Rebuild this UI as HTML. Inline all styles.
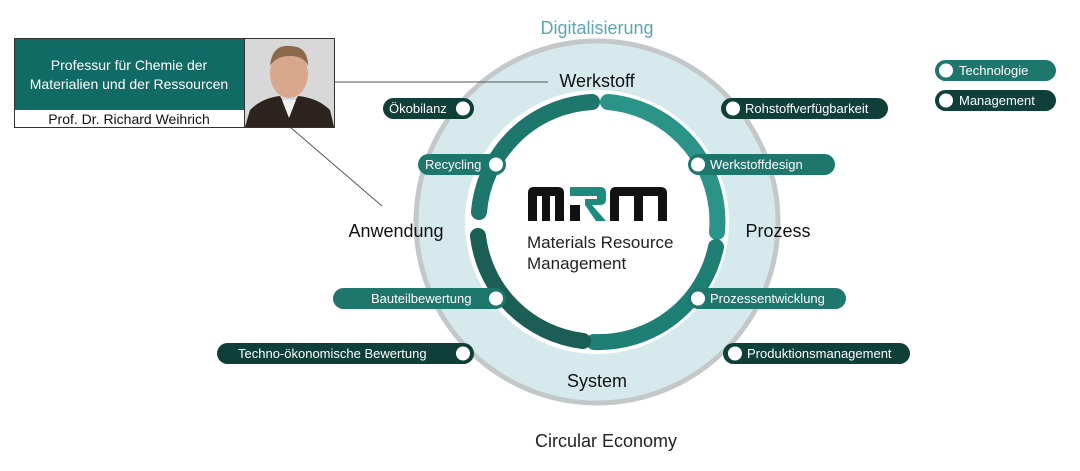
<!DOCTYPE html>
<html><head><meta charset="utf-8"><style>
body{margin:0;background:#fff;}
svg{display:block;font-family:"Liberation Sans","DejaVu Sans",sans-serif;}
</style></head><body>
<svg width="1080" height="471" viewBox="0 0 1080 471" xmlns="http://www.w3.org/2000/svg">
<!-- rings -->
<circle cx="597" cy="222" r="181" fill="#d6eaee" stroke="#c4c8c9" stroke-width="5"/>
<circle cx="597" cy="222" r="132" fill="#fff"/>
<g fill="none" stroke-width="16" stroke-linecap="round">
<path d="M 608 102 A 120 120 0 0 1 717 232" stroke="#2a9488"/>
<path d="M 716 247 A 120 120 0 0 1 594 342" stroke="#1e7f74"/>
<path d="M 583 341 A 120 120 0 0 1 478 236" stroke="#1a5e56"/>
<path d="M 479 212 A 120 120 0 0 1 592 102" stroke="#1d776d"/>
</g>
<!-- logo -->
<g fill="#111">
<path d="M528 221 V193 Q528 187 534 187 H558 Q564 187 564 193 V221 H555 V196 H550 V221 H542 V196 H537 V221 Z"/>
<path d="M610 221 V193 Q610 187 616 187 H660 Q667 187 667 193 V221 H658 V196 H643 V221 H634 V196 H619 V221 Z"/>
</g>
<path d="M570 187 H600 Q606 187 606 193 V199 Q606 205 600 205 H592 L606 221 H596 L585 205 V199 H597 V196 H570 Z" fill="#1d8a80"/>
<path d="M570 205 H580 V221 H570 Z" fill="#111"/>
<text x="527" y="248" font-size="17" fill="#222">Materials Resource</text>
<text x="527" y="269" font-size="17" fill="#222">Management</text>
<!-- labels -->
<text x="597" y="34" font-size="18" fill="#5aa7b4" text-anchor="middle">Digitalisierung</text>
<text x="597" y="87" font-size="18" fill="#111" text-anchor="middle">Werkstoff</text>
<text x="778" y="237" font-size="18" fill="#111" text-anchor="middle">Prozess</text>
<text x="396" y="237" font-size="18" fill="#111" text-anchor="middle">Anwendung</text>
<text x="597" y="387" font-size="18" fill="#111" text-anchor="middle">System</text>
<text x="606" y="447" font-size="18" fill="#222" text-anchor="middle">Circular Economy</text>
<!-- pills -->
<g font-size="13" fill="#fff">
<rect x="383" y="98" width="91" height="21" rx="10.5" fill="#0f3f39"/><circle cx="463" cy="108.5" r="7" fill="#fff"/><text x="389" y="113">Ökobilanz</text>
<rect x="418" y="154" width="88" height="21" rx="10.5" fill="#1d776d"/><circle cx="496" cy="164.5" r="7" fill="#fff"/><text x="425" y="169">Recycling</text>
<rect x="333" y="288" width="173" height="21" rx="10.5" fill="#1d776d"/><circle cx="496" cy="298.5" r="7" fill="#fff"/><text x="371" y="303">Bauteilbewertung</text>
<rect x="217" y="343" width="257" height="21" rx="10.5" fill="#0f3f39"/><circle cx="463" cy="353.5" r="7" fill="#fff"/><text x="238" y="358">Techno-ökonomische Bewertung</text>
<rect x="721" y="98" width="167" height="21" rx="10.5" fill="#0f3f39"/><circle cx="733" cy="108.5" r="7" fill="#fff"/><text x="745" y="113">Rohstoffverfügbarkeit</text>
<rect x="688" y="154" width="147" height="21" rx="10.5" fill="#1d776d"/><circle cx="698" cy="164.5" r="7" fill="#fff"/><text x="710" y="169">Werkstoffdesign</text>
<rect x="688" y="288" width="158" height="21" rx="10.5" fill="#1d776d"/><circle cx="698" cy="298.5" r="7" fill="#fff"/><text x="710" y="303">Prozessentwicklung</text>
<rect x="723" y="343" width="187" height="21" rx="10.5" fill="#0f3f39"/><circle cx="735" cy="353.5" r="7" fill="#fff"/><text x="747" y="358">Produktionsmanagement</text>
<rect x="935" y="60" width="121" height="21" rx="10.5" fill="#1d776d"/><circle cx="946" cy="70.5" r="7" fill="#fff"/><text x="959" y="75">Technologie</text>
<rect x="935" y="90" width="121" height="21" rx="10.5" fill="#0f3f39"/><circle cx="946" cy="100.5" r="7" fill="#fff"/><text x="959" y="105">Management</text>
</g>
<!-- connector lines -->
<line x1="334" y1="82" x2="548" y2="82" stroke="#555" stroke-width="1"/>
<line x1="290" y1="127" x2="382" y2="206" stroke="#555" stroke-width="1"/>
<!-- professor box -->
<rect x="14.5" y="38.5" width="230" height="89" fill="#fff" stroke="#333"/>
<rect x="15" y="39" width="229" height="71" fill="#0f6b63"/>
<text x="129" y="70" font-size="14" fill="#fff" text-anchor="middle">Professur für Chemie der</text>
<text x="129" y="89" font-size="14" fill="#fff" text-anchor="middle">Materialien und der Ressourcen</text>
<text x="129" y="124" font-size="14" fill="#111" text-anchor="middle">Prof. Dr. Richard Weihrich</text>
<!-- photo -->
<rect x="244.5" y="38.5" width="90" height="89" fill="#d8d8d8" stroke="#333"/>
<ellipse cx="289" cy="74" rx="19" ry="24" fill="#d9a88c"/>
<path d="M270 66 Q272 44 290 46 Q308 46 308 66 Q304 56 290 56 Q276 56 270 66 Z" fill="#8a6a4a"/>
<path d="M245 127 L250 110 Q262 98 280 96 L289 112 L298 96 Q318 98 330 110 L334 127 Z" fill="#2e241f"/>
<path d="M282 100 L289 118 L296 100 Z" fill="#f2f2f2"/>
</svg>
</body></html>
